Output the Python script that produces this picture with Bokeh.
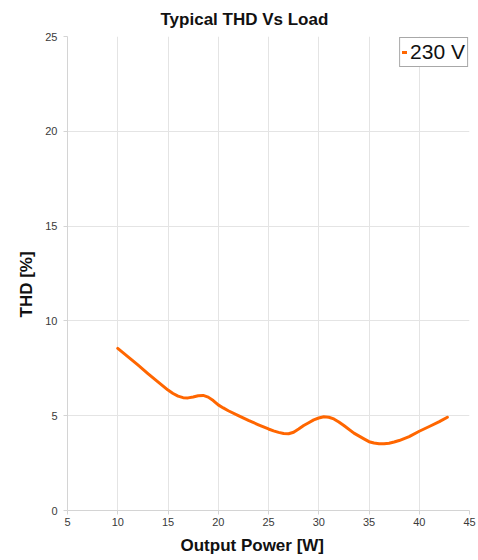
from bokeh.plotting import figure
from bokeh.models import Legend, LegendItem, FixedTicker, Range1d, Title
from bokeh.embed import file_html
from bokeh.resources import INLINE

# ---- data ----
power_w = [10, 11, 12, 13, 14, 15, 15.5, 16, 16.5, 17, 17.5, 18, 18.5, 19, 19.5, 20,
           20.5, 21, 22, 23, 24, 25, 25.5, 26, 26.5, 27, 27.5, 28, 28.5, 29, 29.5, 30,
           30.5, 31, 31.5, 32, 32.5, 33.5, 34.5, 35, 35.5, 36, 36.5, 37, 37.5, 38, 39,
           40, 41, 42, 42.8]
thd_230v = [8.55, 8.12, 7.68, 7.22, 6.78, 6.35, 6.17, 6.03, 5.95, 5.94, 5.99, 6.05,
            6.07, 5.98, 5.8, 5.57, 5.41, 5.26, 5.0, 4.75, 4.52, 4.3, 4.2, 4.12, 4.06,
            4.05, 4.13, 4.3, 4.48, 4.63, 4.78, 4.88, 4.94, 4.92, 4.83, 4.67, 4.48, 4.08,
            3.78, 3.63, 3.56, 3.52, 3.52, 3.55, 3.61, 3.69, 3.9, 4.18, 4.43, 4.69, 4.92]
series_name = "230 V"
x_ticks = [5, 10, 15, 20, 25, 30, 35, 40, 45]
y_ticks = [0, 5, 10, 15, 20, 25]
title_text = "Typical THD Vs Load"
x_label = "Output Power [W]"
y_label = "THD [%]"

FONT = "Liberation Sans"

p = figure(width=478, height=560, output_backend="svg", toolbar_location=None,
           x_range=Range1d(5, 45), y_range=Range1d(0, 25),
           min_border_left=67, min_border_right=9, min_border_top=36, min_border_bottom=50,
           background_fill_color="white", border_fill_color="white")
p.outline_line_color = None

p.title.text = title_text
p.title.text_font = FONT
p.title.text_font_size = "17px"
p.title.text_font_style = "bold"
p.title.text_color = "#111111"
p.title.align = "left"
p.title.offset = 93
p.title.standoff = 15

for ax, ticks in ((p.xaxis[0], x_ticks), (p.yaxis[0], y_ticks)):
    ax.ticker = FixedTicker(ticks=ticks)
    ax.axis_line_color = "#d4d4d4"
    ax.major_tick_line_color = "#d4d4d4"
    ax.minor_tick_line_color = None
    ax.major_tick_in = 0
    ax.major_tick_out = 4
    ax.major_label_text_font = FONT
    ax.major_label_text_font_size = "11px"
    ax.major_label_text_color = "#3a3a3a"
p.xaxis.major_label_standoff = 3
p.yaxis.major_label_standoff = 6

p.xgrid.ticker = FixedTicker(ticks=x_ticks)
p.ygrid.ticker = FixedTicker(ticks=y_ticks)
p.grid.grid_line_color = "#e4e4e4"
p.grid.grid_line_width = 1

r = p.line(power_w, thd_230v, line_color="#FF6600", line_width=3, line_join="round", line_cap="round")

legend = Legend(items=[LegendItem(label=series_name, renderers=[r])], location="top_right",
                margin=1, padding=2, spacing=0, glyph_width=5, glyph_height=14,
                label_standoff=3, label_height=14,
                label_text_font=FONT, label_text_font_size="21px", label_text_color="#111111",
                border_line_color="#a8a8a8", border_line_width=1, border_line_alpha=1,
                background_fill_color="white", background_fill_alpha=1)
p.add_layout(legend)

xt = Title(text=x_label, text_font=FONT, text_font_size="17px", text_font_style="bold",
           text_color="#111111", align="left", offset=113, standoff=11)
p.add_layout(xt, "below")
yt = Title(text=y_label, text_font=FONT, text_font_size="17px", text_font_style="bold",
           text_color="#111111", align="left", offset=193, standoff=13)
p.add_layout(yt, "left")

open("out.html", "w").write(file_html(p, INLINE))
